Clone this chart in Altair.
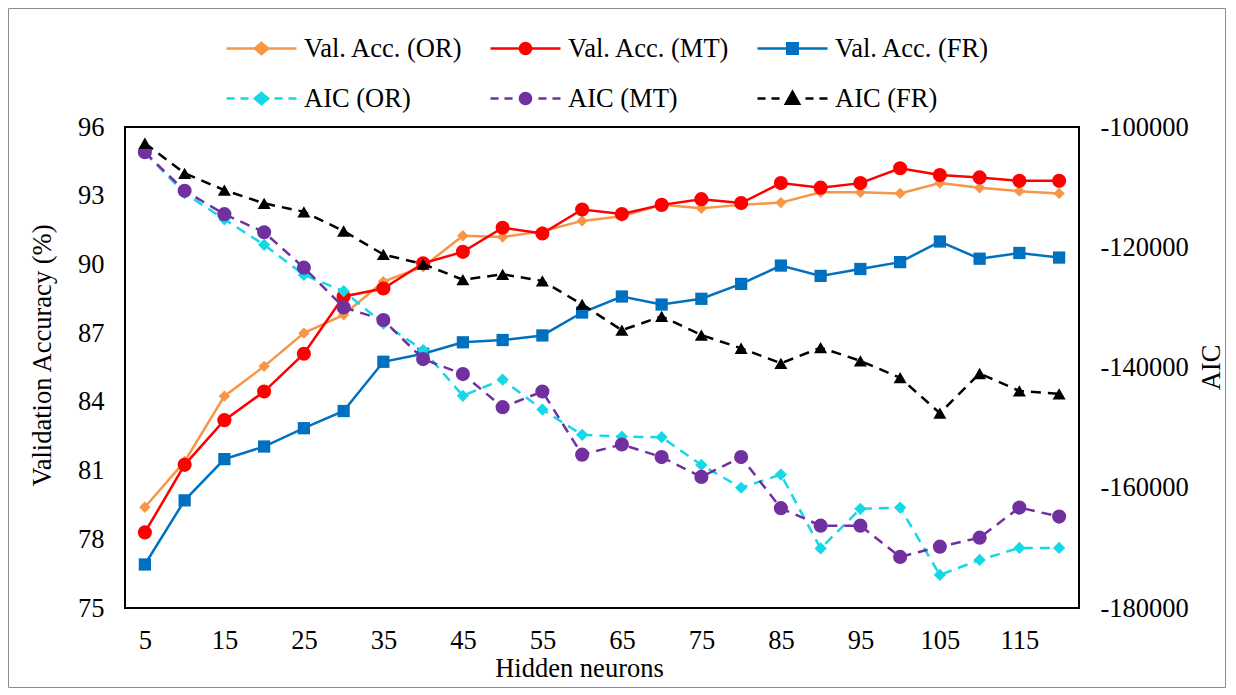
import altair as alt
import pandas as pd

# ---------------- data ----------------
hidden = [5, 10, 15, 20, 25, 30, 35, 40, 45, 50, 55, 60,
          65, 70, 75, 80, 85, 90, 95, 100, 105, 110, 115, 120]

acc_or = [79.4, 81.4, 84.25, 85.55, 87.0, 87.8, 89.25, 89.9, 91.25, 91.2, 91.45, 91.9,
          92.1, 92.6, 92.45, 92.6, 92.7, 93.15, 93.15, 93.1, 93.55, 93.35, 93.2, 93.1]
acc_mt = [78.3, 81.25, 83.2, 84.45, 86.1, 88.6, 88.95, 90.05, 90.55, 91.6, 91.35, 92.4,
          92.2, 92.6, 92.85, 92.68, 93.55, 93.35, 93.55, 94.2, 93.9, 93.8, 93.65, 93.65]
acc_fr = [76.9, 79.7, 81.5, 82.05, 82.85, 83.6, 85.75, 86.1, 86.6, 86.7, 86.9, 87.9,
          88.6, 88.25, 88.5, 89.15, 89.95, 89.5, 89.8, 90.1, 91.0, 90.25, 90.5, 90.3]

aic_or = [-104300, -111000, -115350, -119600, -124600, -127300, -132700, -137100,
          -144700, -142000, -147000, -151200, -151500, -151600, -156200, -160000,
          -157800, -170100, -163500, -163300, -174500, -172000, -170000, -170000]
aic_mt = [-104200, -110600, -114500, -117500, -123400, -130000, -132100, -138600,
          -141100, -146600, -144000, -154500, -152800, -154900, -158200, -154900,
          -163400, -166300, -166300, -171500, -169800, -168300, -163300, -164800]
aic_fr = [-102700, -107700, -110500, -112700, -114100, -117300, -121200, -122800,
          -125400, -124500, -125600, -129500, -133800, -131500, -134600, -136800,
          -139300, -136700, -138900, -141700, -147600, -141000, -143900, -144400]

x_ticks = [5, 15, 25, 35, 45, 55, 65, 75, 85, 95, 105, 115]
acc_ticks = [75, 78, 81, 84, 87, 90, 93, 96]
aic_ticks = [-180000, -160000, -140000, -120000, -100000]

series = ["Val. Acc. (OR)", "Val. Acc. (MT)", "Val. Acc. (FR)",
          "AIC (OR)", "AIC (MT)", "AIC (FR)"]
colors = ["#F79646", "#FF0000", "#0070C0", "#14D8E6", "#7030A0", "#000000"]

# legend symbols: line + marker drawn as one path
SOLID = "M-1,0H1"
DASHED = "M-1,0H-0.77M-0.6,0H-0.37M0.37,0H0.6M0.77,0H1"
DIAMOND = "M0,-0.16L0.19,0L0,0.16L-0.19,0Z"
CIRCLE = "M0.16,0A0.16,0.16,0,1,1,-0.16,0A0.16,0.16,0,1,1,0.16,0Z"
SQUARE = "M-0.15,-0.15H0.15V0.15H-0.15Z"
TRIANGLE = "M0,-0.19L0.19,0.15L-0.19,0.15Z"
legend_paths = [SOLID + DIAMOND, SOLID + CIRCLE, SOLID + SQUARE,
                DASHED + DIAMOND, DASHED + CIRCLE, DASHED + TRIANGLE]

df = pd.DataFrame({
    "hidden": hidden,
    "acc_or": acc_or, "acc_mt": acc_mt, "acc_fr": acc_fr,
    "aic_or": aic_or, "aic_mt": aic_mt, "aic_fr": aic_fr,
})

FONT = "Liberation Serif"
FS = 26.5
W, H = 954, 481

x_enc = alt.X(
    "hidden:Q",
    scale=alt.Scale(domain=[2.5, 122.5], nice=False, zero=False),
    axis=alt.Axis(values=x_ticks, title="Hidden neurons", grid=False, domain=False,
                  ticks=False, tickSize=0, labelPadding=19, labelFont=FONT,
                  labelFontSize=FS, labelColor="black", titleFont=FONT,
                  titleFontSize=FS, titleFontWeight="normal", titleColor="black",
                  titleX=454, titleY=60, titleBaseline="middle"),
)

left_axis = alt.Axis(values=acc_ticks, orient="left", title="Validation Accuracy (%)",
                     grid=False, domain=False, ticks=False, tickSize=0, labelPadding=21,
                     labelFont=FONT, labelFontSize=FS, labelColor="black",
                     titleFont=FONT, titleFontSize=FS, titleFontWeight="normal",
                     titleColor="black", titleAngle=270, titleX=-83, titleY=228,
                     titleBaseline="middle", titleAlign="center")
right_axis = alt.Axis(values=aic_ticks, orient="right", title="AIC",
                      grid=False, domain=False, ticks=False, tickSize=0, labelPadding=21,
                      labelFont=FONT, labelFontSize=FS, labelColor="black",
                      labelExpr="datum.value + ''",
                      titleFont=FONT, titleFontSize=FS, titleFontWeight="normal",
                      titleColor="black", titleAngle=270, titleX=132, titleY=240,
                      titleBaseline="middle", titleAlign="center")

acc_scale = alt.Scale(domain=[75, 96], nice=False, zero=False)
aic_scale = alt.Scale(domain=[-180000, -100000], nice=False, zero=False)


def series_layers(col, color, dashed, shape, size, scale, axis):
    base = alt.Chart(df).encode(x=x_enc, y=alt.Y(f"{col}:Q", scale=scale, axis=axis))
    if dashed:
        line = base.mark_line(color=color, strokeWidth=2.5, strokeDash=[10, 7])
    else:
        line = base.mark_line(color=color, strokeWidth=2.5)
    pts = base.mark_point(shape=shape, filled=True, size=size, color=color, opacity=1)
    return [line, pts]


left = alt.layer(
    *series_layers("acc_or", colors[0], False, "diamond", 130, acc_scale, left_axis),
    *series_layers("acc_mt", colors[1], False, "circle", 200, acc_scale, left_axis),
    *series_layers("acc_fr", colors[2], False, "square", 150, acc_scale, left_axis),
)
right = alt.layer(
    *series_layers("aic_or", colors[3], True, "diamond", 150, aic_scale, right_axis),
    *series_layers("aic_mt", colors[4], True, "circle", 200, aic_scale, right_axis),
    *series_layers("aic_fr", colors[5], True, "triangle-up", 170, aic_scale, right_axis),
)

leg = alt.Legend(orient="none", legendX=100, legendY=-115, direction="horizontal",
                 columns=3, title=None, labelFont=FONT, labelFontSize=FS,
                 labelColor="black", labelLimit=400, symbolSize=4900,
                 symbolStrokeWidth=2.5, labelOffset=6, columnPadding=22,
                 rowPadding=-10, padding=0)

leg_df = pd.DataFrame({"series": series})
legend_layer = alt.Chart(leg_df).mark_point(filled=True, opacity=1).encode(
    fill=alt.Fill("series:N", scale=alt.Scale(domain=series, range=colors), legend=leg),
    stroke=alt.Stroke("series:N", scale=alt.Scale(domain=series, range=colors), legend=leg),
    shape=alt.Shape("series:N", scale=alt.Scale(domain=series, range=legend_paths), legend=leg),
).transform_filter("false")

border = alt.Chart(pd.DataFrame({"f": [0]})).mark_rect(
    fill="transparent", stroke="#8C8C8C", strokeWidth=1
).encode(
    x=alt.value(-116.5), x2=alt.value(W + 146.5),
    y=alt.value(-118.5), y2=alt.value(H + 79.5),
)

chart = alt.layer(left, right, legend_layer, border).resolve_scale(
    y="independent"
).properties(
    width=W, height=H,
    padding={"left": 117, "top": 119, "right": 148, "bottom": 80},
    autosize=alt.AutoSizeParams(type="none"),
).configure_view(stroke="black", strokeWidth=2)

chart.save("out.html", embed_options={"renderer": "svg", "actions": False})
